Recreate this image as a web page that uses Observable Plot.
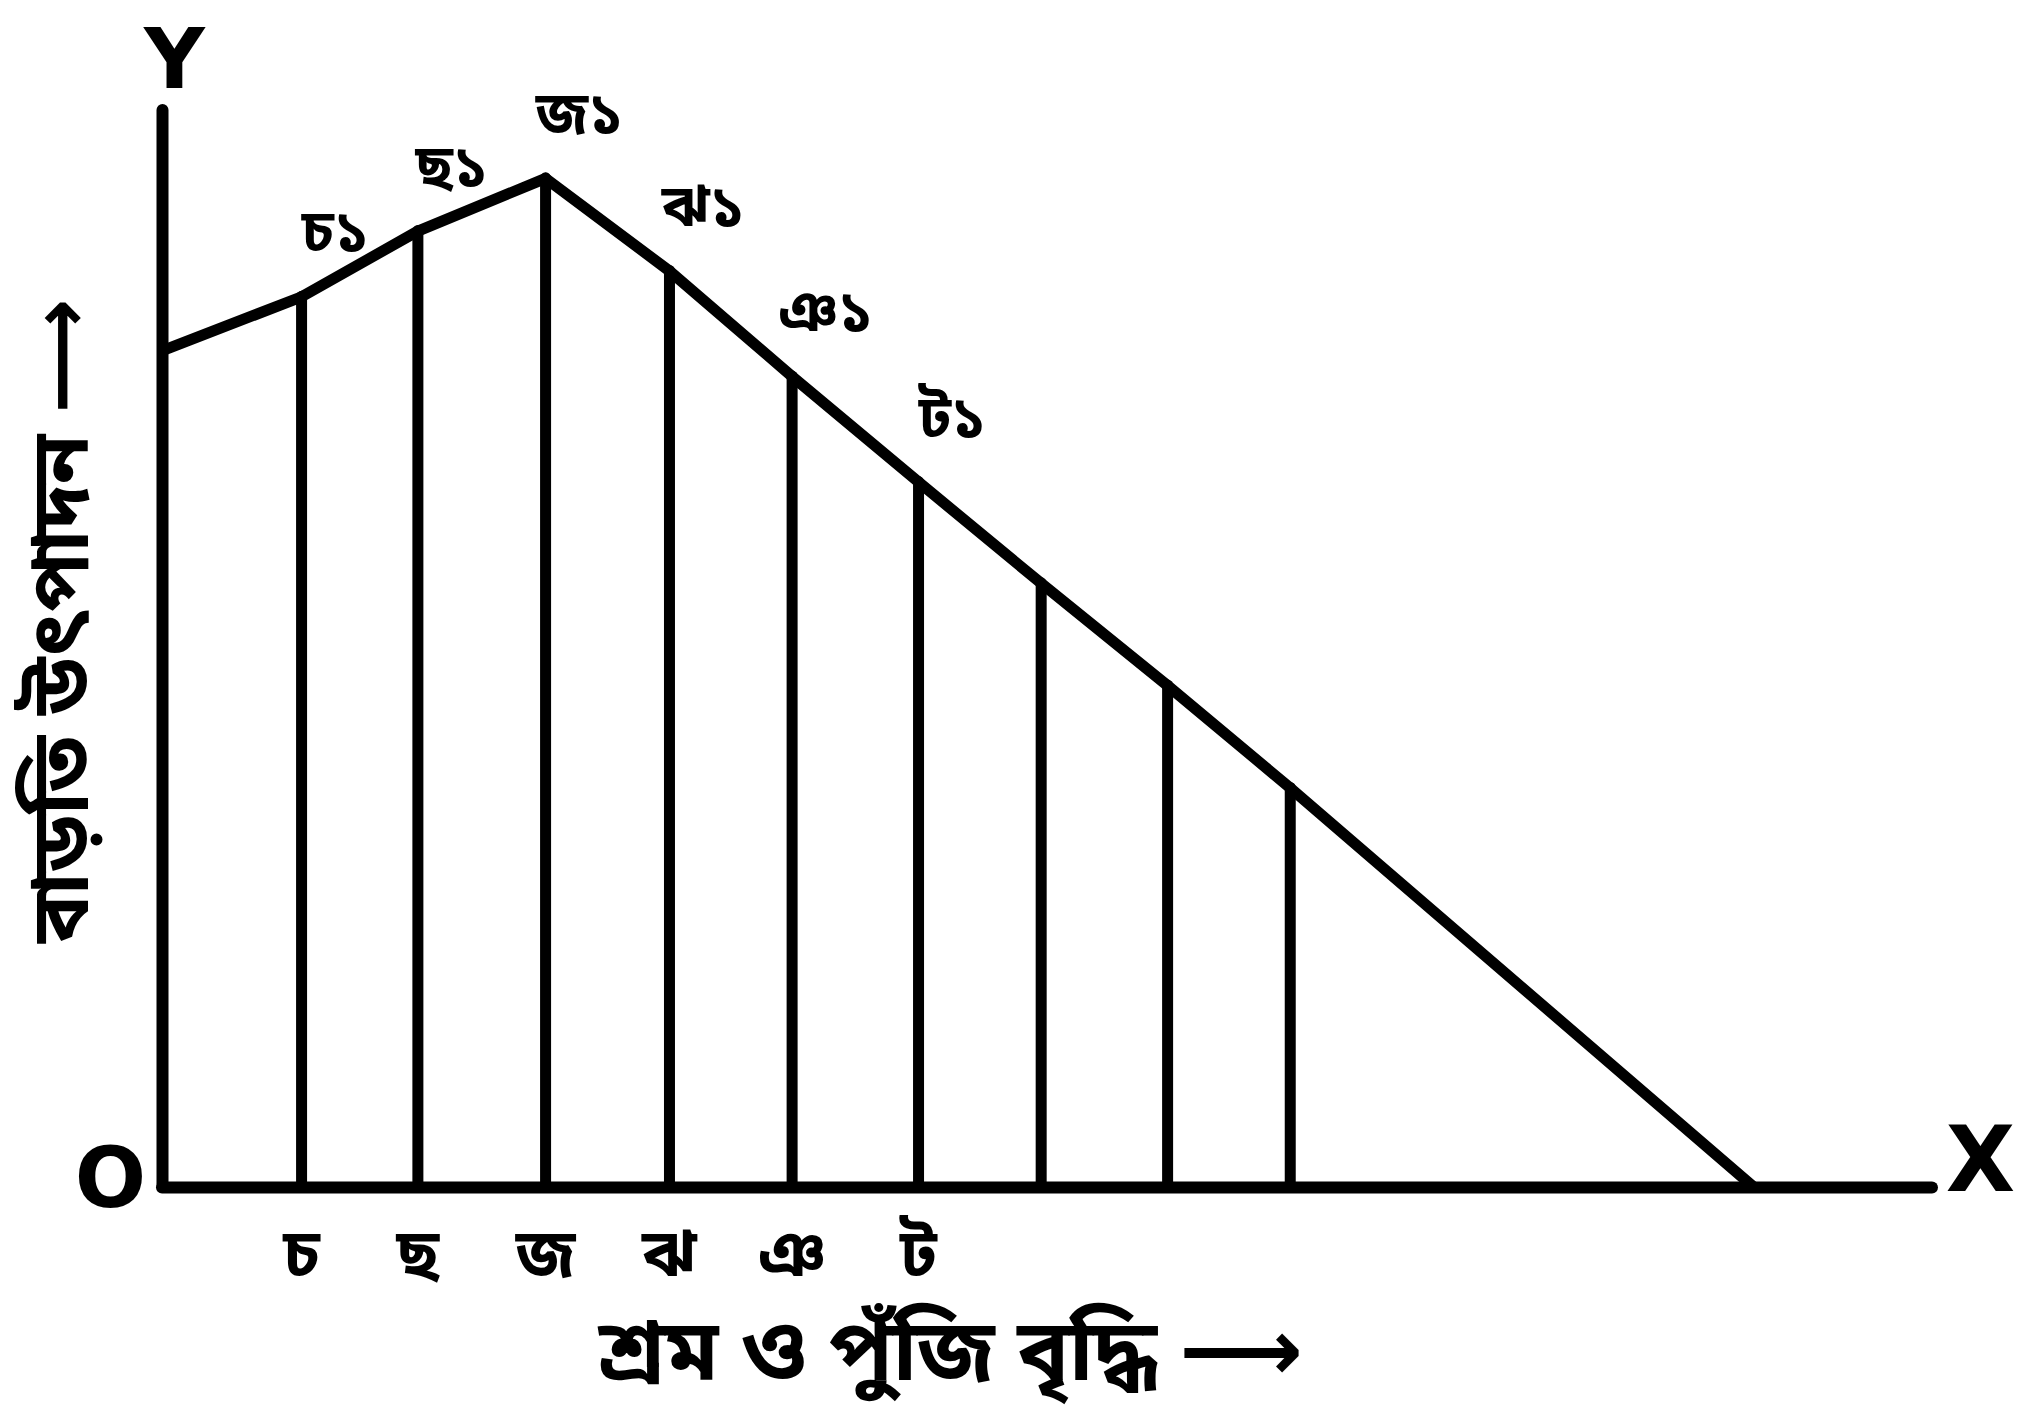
<!DOCTYPE html>
<html>
<head>
<meta charset="utf-8">
<script src="https://cdn.jsdelivr.net/npm/d3@7"></script>
<script src="https://cdn.jsdelivr.net/npm/@observablehq/plot@0.6"></script>
<style>
  html, body { margin: 0; padding: 0; background: #fff; }
  #chart svg { display: block; }
</style>
</head>
<body>
<div id="chart"></div>
<script>
// Curve points (input units on x, output units on y)
const curveX = [0, 1.10, 2.02, 3.03, 4.01, 4.98, 5.98, 6.95, 7.95, 8.92, 12.59];
const curveY = [7.77, 8.27, 8.88, 9.37, 8.51, 7.53, 6.55, 5.61, 4.66, 3.71, 0];

// Vertical lines drawn from the x axis up to the curve
const ruleXs = [1.10, 2.02, 3.03, 4.01, 4.98, 5.98, 6.95, 7.95, 8.92];
const ruleTops = [8.27, 8.88, 9.37, 8.51, 7.53, 6.55, 5.61, 4.66, 3.71];

// Tick labels on x axis
const tickXs = [1.10, 2.02, 3.03, 4.01, 4.98, 5.98];
const tickLabels = ["চ", "ছ", "জ", "ঝ", "ঞ", "ট"];

// Point labels on the curve
const pointLabels = ["চ১", "ছ১", "জ১", "ঝ১", "ঞ১", "ট১"];
const pointXs = [1.10, 2.02, 3.03, 4.01, 4.98, 5.98];
const pointYs = [8.27, 8.88, 9.37, 8.51, 7.53, 6.55];

const xTitle = "শ্রম ও পুঁজি বৃদ্ধি ⟶";
const yTitle = "বাড়তি উৎপাদন ⟶";

const curve = curveX.map((x, i) => ({x, y: curveY[i]}));
const rules = ruleXs.map((x, i) => ({x, top: ruleTops[i]}));
const points = pointXs.map((x, i) => ({x, y: pointYs[i], label: pointLabels[i]}));
const tickMap = new Map(tickXs.map((x, i) => [x, tickLabels[i]]));

const FONT = "'Noto Sans Bengali', 'Lohit Bengali', 'Noto Sans', 'DejaVu Sans', sans-serif";
const SW = 11;

const chart = Plot.plot({
  width: 2033,
  height: 1421,
  marginLeft: 162,
  marginRight: 101,
  marginTop: 110,
  marginBottom: 234,
  style: {fontFamily: FONT, background: "#fff", color: "#000", overflow: "visible"},
  x: {domain: [0, 14], axis: null},
  y: {domain: [0, 10], axis: null},
  marks: [
    // vertical lines
    Plot.ruleX(rules, {x: "x", y1: 0, y2: "top", stroke: "#000", strokeWidth: SW, strokeLinecap: "round"}),
    // axes
    Plot.ruleX([0], {y1: 0, y2: 10, stroke: "#000", strokeWidth: SW + 1, strokeLinecap: "round"}),
    Plot.ruleY([0], {x1: 0, x2: 14, stroke: "#000", strokeWidth: SW + 1, strokeLinecap: "round"}),
    // curve
    Plot.line(curve, {x: "x", y: "y", stroke: "#000", strokeWidth: SW, curve: "linear", strokeLinecap: "round", strokeLinejoin: "round"}),
    // x tick labels
    Plot.axisX({ticks: tickXs, tickSize: 0, tickPadding: 42, tickFormat: d => tickMap.get(d), fontSize: 66, fontWeight: "bold", label: null, fill: "#000"}),
    // point labels
    Plot.text(points, {x: "x", y: "y", text: "label", dx: 34, dy: -64, fontSize: 58, fontWeight: "bold", fill: "#000"}),
    // axis letters
    Plot.text(["Y"], {frameAnchor: "top-left", dx: 12, dy: -82, fontSize: 84, fontWeight: "bold", fontFamily: "'DejaVu Sans', sans-serif", fill: "#000", textAnchor: "middle"}),
    Plot.text(["X"], {frameAnchor: "bottom-right", dx: 48, dy: 3, fontSize: 90, fontWeight: "bold", fontFamily: "'DejaVu Sans', sans-serif", fill: "#000", textAnchor: "middle"}),
    Plot.text(["O"], {frameAnchor: "bottom-left", dx: -52, dy: 19, fontSize: 84, fontWeight: "bold", fontFamily: "'DejaVu Sans', sans-serif", fill: "#000", textAnchor: "middle"}),
    // axis titles
    Plot.text([xTitle], {frameAnchor: "bottom", dx: -97, dy: 192, fontSize: 86, fontWeight: "bold", fill: "#000", textAnchor: "middle"}),
    Plot.text([yTitle], {frameAnchor: "left", dx: -100, dy: -28, rotate: -90, fontSize: 80, fontWeight: "bold", fill: "#000", textAnchor: "middle"})
  ]
});

document.getElementById("chart").appendChild(chart);
</script>
</body>
</html>
